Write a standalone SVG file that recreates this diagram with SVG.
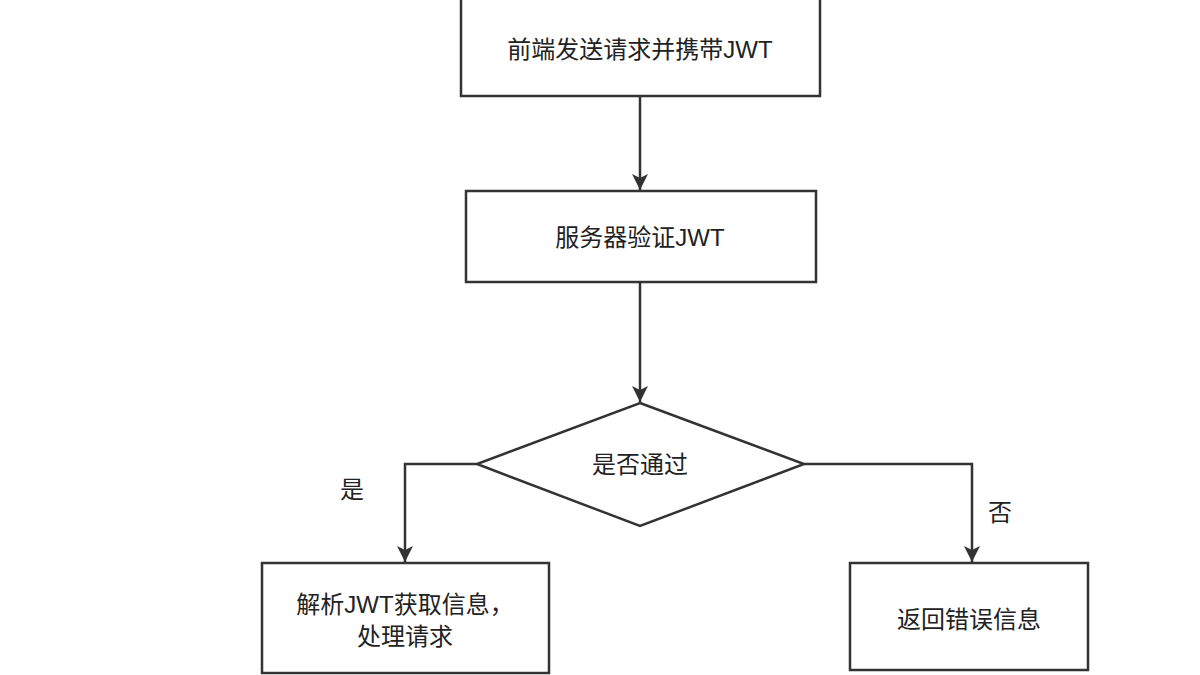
<svg xmlns="http://www.w3.org/2000/svg" width="1200" height="675" viewBox="0 0 1200 675">
<defs>
<marker id="ah" markerWidth="16" markerHeight="20" refX="16" refY="8" orient="auto" markerUnits="userSpaceOnUse"><path d="M0,0 L16,8 L0,16 L4,8 Z" fill="#333"/></marker>
<style>
.n{fill:#fff;stroke:#333;stroke-width:2.5}
.t{font-family:"Liberation Sans","Noto Sans CJK SC",sans-serif;font-size:24px;fill:#222;text-anchor:middle}
.c{fill:none;stroke:#333;stroke-width:2.5;marker-end:url(#ah)}
</style>
</defs>
<rect width="1200" height="675" fill="#fff"/>
<g id="connectors">
<path class="c" d="M640,96 V190"/>
<path class="c" d="M640,282 V402"/>
<path class="c" d="M477,464 H405 V562"/>
<path class="c" d="M804,464 H972 V562"/>
</g>
<g id="n1"><rect class="n" x="461" y="-5" width="359" height="101"/><text class="t" x="640" y="58">前端发送请求并携带JWT</text></g>
<g id="n2"><rect class="n" x="466" y="191" width="350" height="91"/><text class="t" x="640" y="246">服务器验证JWT</text></g>
<g id="n3"><polygon class="n" points="640,403 804,464 640,526 477,464"/><text class="t" x="640" y="473">是否通过</text></g>
<g id="n4"><rect class="n" x="262" y="563" width="287" height="110"/><text class="t" x="405" y="613">解析JWT获取信息，</text><text class="t" x="405" y="645">处理请求</text></g>
<g id="n5"><rect class="n" x="850" y="563" width="238" height="107"/><text class="t" x="969" y="628">返回错误信息</text></g>
<text class="t" x="352" y="498">是</text>
<text class="t" x="1000" y="521">否</text>
</svg>
